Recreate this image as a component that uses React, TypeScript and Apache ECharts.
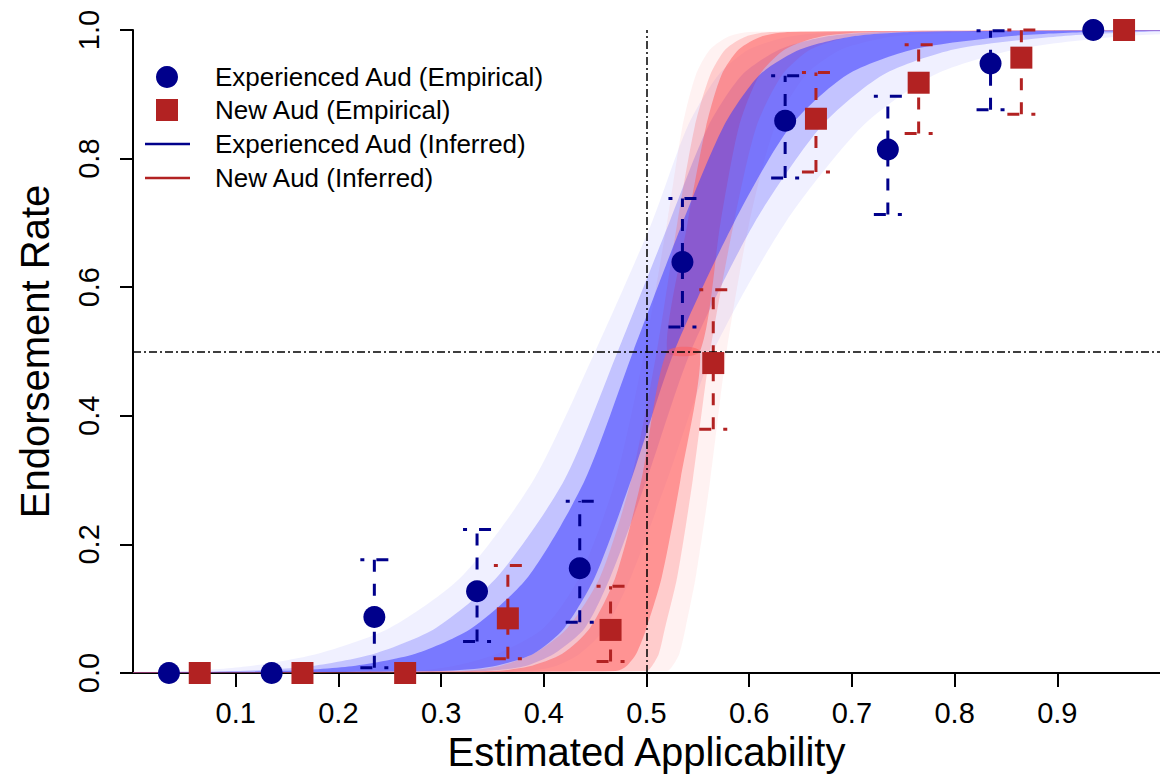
import React, { useEffect, useRef } from "react";
import * as echarts from "echarts";

// ---------- empirical data ----------
const expX = [0.035, 0.135, 0.235, 0.335, 0.435, 0.535, 0.635, 0.735, 0.835, 0.935];
const expRate = [0, 0, 0.087, 0.127, 0.163, 0.639, 0.859, 0.814, 0.948, 1.0];
const expLow = [null, null, 0.008, 0.049, 0.079, 0.538, 0.77, 0.713, 0.876, null];
const expHigh = [null, null, 0.176, 0.223, 0.267, 0.738, 0.929, 0.897, 0.999, null];

const newX = [0.065, 0.165, 0.265, 0.365, 0.465, 0.565, 0.665, 0.765, 0.865, 0.965];
const newRate = [0, 0, 0, 0.085, 0.067, 0.482, 0.862, 0.918, 0.957, 1.0];
const newLow = [null, null, null, 0.022, 0.018, 0.379, 0.779, 0.839, 0.869, null];
const newHigh = [null, null, null, 0.167, 0.135, 0.596, 0.934, 0.977, 1.0, null];

// ---------- inferred curve bands (x position of band edges at each endorsement level) ----------
const bandLevels = [0.003, 0.01, 0.03, 0.07, 0.15, 0.3, 0.5, 0.7, 0.85, 0.93, 0.97, 0.99, 0.997];

const expOuterLeft = [0.05, 0.11, 0.18, 0.25, 0.32, 0.39, 0.45, 0.505, 0.54, 0.57, 0.6, 0.64, 0.69];
const expOuterRight = [0.38, 0.41, 0.435, 0.46, 0.485, 0.52, 0.565, 0.635, 0.71, 0.78, 0.86, 0.96, 1.05];
const expMidLeft = [0.1, 0.17, 0.235, 0.295, 0.355, 0.42, 0.472, 0.522, 0.56, 0.593, 0.63, 0.675, 0.73];
const expMidRight = [0.34, 0.38, 0.41, 0.44, 0.465, 0.5, 0.543, 0.605, 0.67, 0.73, 0.8, 0.9, 0.98];
const expCoreLeft = [0.14, 0.21, 0.275, 0.33, 0.385, 0.44, 0.487, 0.535, 0.575, 0.61, 0.65, 0.7, 0.76];
const expCoreRight = [0.3, 0.35, 0.39, 0.42, 0.45, 0.485, 0.527, 0.585, 0.64, 0.695, 0.76, 0.85, 0.93];

const newOuterLeft = [0.27, 0.31, 0.355, 0.4, 0.435, 0.47, 0.498, 0.52, 0.535, 0.548, 0.562, 0.58, 0.6];
const newOuterRight = [0.52, 0.525, 0.532, 0.538, 0.548, 0.562, 0.578, 0.6, 0.625, 0.655, 0.69, 0.74, 0.82];
const newMidLeft = [0.32, 0.355, 0.39, 0.423, 0.455, 0.485, 0.51, 0.53, 0.547, 0.562, 0.577, 0.597, 0.622];
const newMidRight = [0.5, 0.505, 0.512, 0.518, 0.53, 0.545, 0.562, 0.585, 0.607, 0.632, 0.66, 0.7, 0.76];
const newCoreLeft = [0.35, 0.385, 0.418, 0.445, 0.47, 0.495, 0.52, 0.54, 0.558, 0.573, 0.59, 0.612, 0.64];
const newCoreRight = [0.47, 0.48, 0.49, 0.5, 0.515, 0.533, 0.552, 0.572, 0.59, 0.61, 0.635, 0.67, 0.72];

const xTicks = [0.1, 0.2, 0.3, 0.4, 0.5, 0.6, 0.7, 0.8, 0.9];

const legendLabels = [
  "Experienced Aud (Empirical)",
  "New Aud (Empirical)",
  "Experienced Aud (Inferred)",
  "New Aud (Inferred)",
];

const BLUE = "#00008B";
const RED = "#B22222";
const FONT = "'Liberation Sans', Arial, sans-serif";
const MID = 6; // index of the 0.5 level

function bandPolygon(left: number[], right: number[], part: "all" | "low" | "high" = "all") {
  const n = bandLevels.length;
  const from = part === "high" ? MID : 0;
  const to = part === "low" ? MID : n - 1;
  const pts: number[][] = [];
  if (from === 0) pts.push([-0.05, 0.0008]);
  for (let i = from; i <= to; i++) pts.push([left[i], bandLevels[i]]);
  if (to === n - 1) {
    pts.push([1.05, 1]);
    pts.push([1.05, 0.9992]);
  }
  for (let i = to; i >= from; i--) pts.push([right[i], bandLevels[i]]);
  if (from === 0) pts.push([-0.05, 0]);
  return pts;
}

const layers = [
  { pts: bandPolygon(expOuterLeft, expOuterRight), fill: "rgba(60,60,255,0.08)" },
  { pts: bandPolygon(newOuterLeft, newOuterRight), fill: "rgba(255,90,90,0.08)" },
  { pts: bandPolygon(expMidLeft, expMidRight), fill: "rgba(60,60,255,0.25)" },
  { pts: bandPolygon(newMidLeft, newMidRight), fill: "rgba(255,90,90,0.25)" },
  { pts: bandPolygon(newCoreLeft, newCoreRight, "high"), fill: "rgba(255,90,90,0.5)" },
  { pts: bandPolygon(expCoreLeft, expCoreRight), fill: "rgba(60,60,255,0.55)" },
  { pts: bandPolygon(newCoreLeft, newCoreRight, "low"), fill: "rgba(255,90,90,0.5)" },
];

function errData(xs: number[], lo: (number | null)[], hi: (number | null)[]) {
  const out: number[][] = [];
  xs.forEach((x, i) => {
    if (lo[i] != null && hi[i] != null) out.push([x, lo[i] as number, hi[i] as number]);
  });
  return out;
}

function errSeries(data: number[][], color: string) {
  return {
    type: "custom",
    z: 4,
    data,
    encode: { x: 0, y: [1, 2] },
    renderItem: (params: any, api: any) => {
      const x = api.value(0);
      const pLo = api.coord([x, api.value(1)]);
      const pHi = api.coord([x, api.value(2)]);
      const style = { stroke: color, lineWidth: 3, lineDash: [12, 12], fill: null };
      const w = 14;
      return {
        type: "group",
        children: [
          { type: "polyline", shape: { points: [pLo, pHi] }, style },
          {
            type: "polyline",
            shape: { points: [[pLo[0] - w, pLo[1]], pLo, [pLo[0] + w, pLo[1]]] },
            style,
          },
          {
            type: "polyline",
            shape: { points: [[pHi[0] + w, pHi[1]], pHi, [pHi[0] - w, pHi[1]]] },
            style,
          },
        ],
      };
    },
  };
}

export default function App() {
  const ref = useRef<HTMLDivElement>(null);
  useEffect(() => {
    document.body.style.margin = "0";
    const chart = echarts.init(ref.current!, null, { renderer: "svg" });
    const legendX = 167;
    const legendRows = [77, 110, 144, 178];
    const option: any = {
      animation: false,
      backgroundColor: "#fff",
      textStyle: { fontFamily: FONT },
      grid: { left: 133, top: 30, width: 1030, height: 643 },
      xAxis: {
        type: "value",
        min: 0,
        max: 1,
        interval: 0.1,
        splitLine: { show: false },
        axisLine: { show: true, onZero: false, lineStyle: { color: "#000", width: 2 } },
        axisTick: { show: true, length: 14, lineStyle: { color: "#000", width: 2 }, customValues: xTicks },
        axisLabel: {
          customValues: xTicks,
          fontSize: 29,
          color: "#000",
          margin: 25,
          fontFamily: FONT,
          formatter: (v: number) => (v <= 0.001 || v >= 0.999 ? "" : v.toFixed(1)),
        },
        name: "Estimated Applicability",
        nameLocation: "middle",
        nameGap: 58,
        nameTextStyle: { fontSize: 40, color: "#000", fontFamily: FONT },
      },
      yAxis: {
        type: "value",
        min: 0,
        max: 1,
        interval: 0.2,
        splitLine: { show: false },
        axisLine: { show: true, onZero: false, lineStyle: { color: "#000", width: 2 } },
        axisTick: { show: true, length: 13, lineStyle: { color: "#000", width: 2 } },
        axisLabel: {
          rotate: 90,
          fontSize: 29,
          color: "#000",
          margin: 30,
          fontFamily: FONT,
          formatter: (v: number) => v.toFixed(1),
        },
        name: "Endorsement Rate",
        nameLocation: "middle",
        nameGap: 78,
        nameTextStyle: { fontSize: 40, color: "#000", fontFamily: FONT },
      },
      series: [
        {
          type: "custom",
          z: 1,
          clip: true,
          data: layers.map((_, i) => ({ value: [0.5, 0.5], idx: i })),
          encode: { x: 0, y: 1 },
          silent: true,
          renderItem: (params: any, api: any) => {
            const layer = layers[params.dataIndex];
            const pts = layer.pts.map((p) => api.coord(p));
            const cs = params.coordSys;
            return {
              type: "polygon",
              shape: { points: pts, smooth: 0.25 },
              style: { fill: layer.fill, stroke: null },
              clipPath: { type: "rect", shape: { x: cs.x, y: cs.y, width: cs.width, height: cs.height } },
            };
          },
        },
        {
          type: "line",
          data: [],
          z: 3,
          markLine: {
            silent: true,
            symbol: "none",
            label: { show: false },
            lineStyle: { color: "#000", width: 1.5, type: [8, 3, 2, 3] },
            data: [{ xAxis: 0.5 }, { yAxis: 0.5 }],
          },
        },
        errSeries(errData(expX, expLow, expHigh), BLUE),
        errSeries(errData(newX, newLow, newHigh), RED),
        {
          type: "scatter",
          z: 6,
          symbol: "circle",
          symbolSize: 22,
          itemStyle: { color: BLUE, opacity: 1 },
          data: expX.map((x, i) => [x, expRate[i]]),
        },
        {
          type: "scatter",
          z: 6,
          symbol: "rect",
          symbolSize: 22,
          itemStyle: { color: RED, opacity: 1 },
          data: newX.map((x, i) => [x, newRate[i]]),
        },
      ],
      graphic: [
        { type: "circle", shape: { cx: legendX, cy: legendRows[0], r: 11 }, style: { fill: BLUE }, z: 10 },
        { type: "rect", shape: { x: legendX - 11, y: legendRows[1] - 11, width: 22, height: 22 }, style: { fill: RED }, z: 10 },
        { type: "line", shape: { x1: legendX - 22, y1: legendRows[2], x2: legendX + 23, y2: legendRows[2] }, style: { stroke: BLUE, lineWidth: 2.5 }, z: 10 },
        { type: "line", shape: { x1: legendX - 22, y1: legendRows[3], x2: legendX + 23, y2: legendRows[3] }, style: { stroke: RED, lineWidth: 2.5 }, z: 10 },
        ...legendLabels.map((t, i) => ({
          type: "text",
          x: 215,
          y: legendRows[i],
          z: 10,
          style: { text: t, fontSize: 26, fill: "#000", fontFamily: FONT, verticalAlign: "middle", align: "left" },
        })),
      ],
    };
    chart.setOption(option);
    return () => chart.dispose();
  }, []);
  return <div ref={ref} style={{ width: 1160, height: 780 }} />;
}
